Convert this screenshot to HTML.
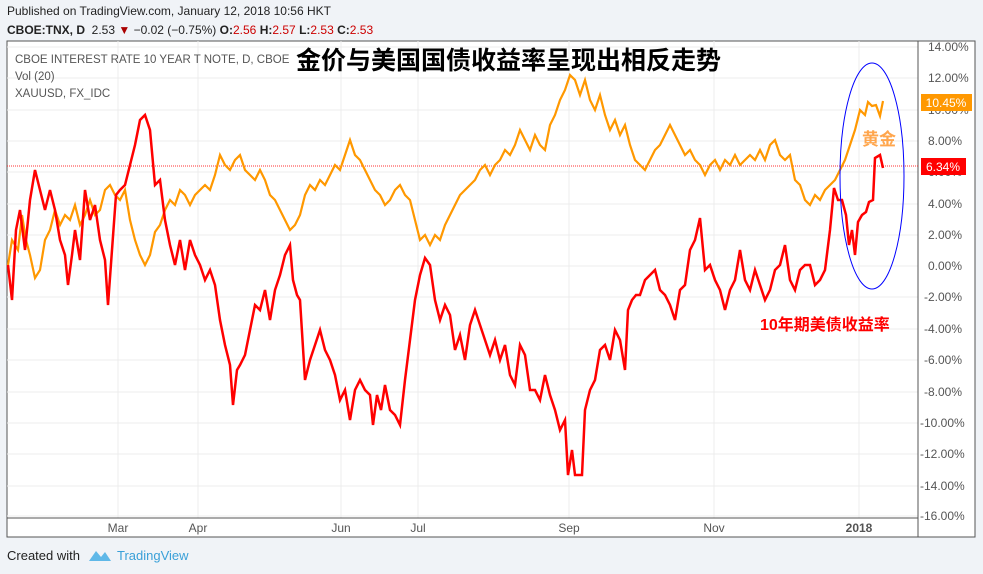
<!DOCTYPE html>
<html><head><meta charset="utf-8"><style>
body{margin:0;width:983px;height:574px;background:#f0f3f7;font-family:"Liberation Sans","Noto Sans CJK SC",sans-serif;overflow:hidden;position:relative}
.t{position:absolute;white-space:nowrap}
</style></head><body>
<div class="t" style="left:7px;top:4px;font-size:12px;color:#222">Published on TradingView.com, January 12, 2018 10:56 HKT</div>
<div class="t" style="left:7px;top:23px;font-size:12px;color:#222"><b>CBOE:TNX, D</b>&nbsp; 2.53 <span style="color:#a00">▼</span> −0.02 (−0.75%) <b>O:</b><span style="color:#c00">2.56</span> <b>H:</b><span style="color:#c00">2.57</span> <b>L:</b><span style="color:#c00">2.53</span> <b>C:</b><span style="color:#c00">2.53</span></div>
<svg width="983" height="574" style="position:absolute;left:0;top:0">
<rect x="7" y="41" width="968" height="496" fill="#fff" stroke="#555" stroke-width="1"/>
<g stroke="#ececec" stroke-width="1">
<line x1="118" y1="41" x2="118" y2="518"/><line x1="198" y1="41" x2="198" y2="518"/><line x1="341" y1="41" x2="341" y2="518"/><line x1="418" y1="41" x2="418" y2="518"/><line x1="569" y1="41" x2="569" y2="518"/><line x1="714" y1="41" x2="714" y2="518"/><line x1="859" y1="41" x2="859" y2="518"/>
<line x1="7" y1="47" x2="918" y2="47"/><line x1="7" y1="78" x2="918" y2="78"/><line x1="7" y1="110" x2="918" y2="110"/><line x1="7" y1="141" x2="918" y2="141"/><line x1="7" y1="172" x2="918" y2="172"/><line x1="7" y1="204" x2="918" y2="204"/><line x1="7" y1="235" x2="918" y2="235"/><line x1="7" y1="266" x2="918" y2="266"/><line x1="7" y1="297" x2="918" y2="297"/><line x1="7" y1="329" x2="918" y2="329"/><line x1="7" y1="360" x2="918" y2="360"/><line x1="7" y1="392" x2="918" y2="392"/><line x1="7" y1="423" x2="918" y2="423"/><line x1="7" y1="454" x2="918" y2="454"/><line x1="7" y1="486" x2="918" y2="486"/><line x1="7" y1="516" x2="918" y2="516"/>
</g>
<line x1="918" y1="41" x2="918" y2="537" stroke="#555"/>
<line x1="7" y1="518" x2="918" y2="518" stroke="#555"/>
<g font-size="12" fill="#555" font-family="Liberation Sans,sans-serif">
<text x="928" y="51">14.00%</text><text x="928" y="82">12.00%</text><text x="928" y="114">10.00%</text><text x="928" y="145">8.00%</text><text x="928" y="176">6.00%</text><text x="928" y="208">4.00%</text><text x="928" y="239">2.00%</text><text x="928" y="270">0.00%</text><text x="924" y="301">-2.00%</text><text x="924" y="333">-4.00%</text><text x="924" y="364">-6.00%</text><text x="924" y="396">-8.00%</text><text x="920" y="427">-10.00%</text><text x="920" y="458">-12.00%</text><text x="920" y="490">-14.00%</text><text x="920" y="520">-16.00%</text>
<text x="118" y="532" text-anchor="middle">Mar</text><text x="198" y="532" text-anchor="middle">Apr</text><text x="341" y="532" text-anchor="middle">Jun</text><text x="418" y="532" text-anchor="middle">Jul</text><text x="569" y="532" text-anchor="middle">Sep</text><text x="714" y="532" text-anchor="middle">Nov</text><text x="859" y="532" text-anchor="middle" font-weight="bold">2018</text>
</g>
<line x1="7" y1="166" x2="918" y2="166" stroke="#f33" stroke-width="1" stroke-dasharray="1,1"/>
<polyline fill="none" stroke="#ff9800" stroke-width="2.2" points="8,265 12,240 18,250 22,215 26,240 30,255 35,278 40,270 45,240 50,230 55,210 60,225 65,215 70,220 75,205 80,225 85,215 90,200 95,215 100,210 105,190 110,185 115,195 120,200 125,190 130,220 135,240 140,255 145,265 150,255 155,232 160,225 165,210 170,200 175,205 180,190 185,195 190,205 195,195 200,190 205,185 210,190 215,175 220,155 225,165 230,170 235,160 240,155 245,170 250,175 255,180 260,170 265,180 270,195 275,200 280,210 285,220 290,230 295,225 300,215 305,195 310,185 315,190 320,180 325,185 330,175 335,165 340,170 345,155 350,140 355,155 360,160 365,170 370,180 375,190 380,195 385,205 390,200 395,190 400,185 405,195 410,200 415,220 420,240 425,235 430,245 435,235 440,240 445,225 450,215 455,205 460,195 465,190 470,185 475,180 480,170 485,165 490,175 495,165 500,160 505,150 510,155 515,145 520,130 525,140 530,150 535,135 540,145 545,150 550,125 555,115 560,100 565,90 570,75 575,80 580,95 585,80 590,100 595,110 600,95 605,115 610,130 615,120 620,135 625,125 630,145 635,160 640,165 645,170 650,160 655,150 660,145 665,135 670,125 675,135 680,145 685,155 690,150 695,160 700,165 705,175 710,165 715,160 720,170 725,160 730,165 735,155 740,165 745,160 750,155 755,160 760,150 765,160 770,145 775,140 780,155 785,160 790,155 795,180 800,185 805,200 810,205 815,195 820,200 825,190 830,185 835,180 840,170 845,160 850,145 855,130 860,110 865,115 868,102 872,106 876,105 880,116 883,101"/>
<polyline fill="none" stroke="#ff0000" stroke-width="2.5" points="8,265 12,300 16,230 20,210 25,250 30,200 35,170 40,190 45,210 50,190 55,210 60,240 65,255 68,285 72,255 75,230 80,260 85,190 90,220 95,205 100,240 105,260 108,305 112,250 116,195 120,190 125,185 130,165 135,145 140,120 145,115 150,130 155,185 160,180 165,220 170,245 175,265 180,240 185,270 190,240 195,255 200,265 205,280 210,270 215,285 220,320 225,345 230,365 233,405 237,370 240,365 245,355 250,330 255,305 260,310 265,290 270,320 275,290 280,275 285,255 290,245 293,280 297,295 300,300 305,380 310,360 315,345 320,330 325,350 330,360 335,375 340,400 345,390 350,420 355,390 360,380 365,390 370,395 373,425 377,395 381,410 385,385 390,410 395,415 400,425 405,380 410,340 415,300 420,275 425,258 430,265 435,300 440,320 445,305 450,315 455,350 460,335 465,360 470,325 475,310 480,325 485,340 490,355 495,340 500,360 505,345 510,375 515,385 520,345 525,355 530,390 535,390 540,400 545,375 550,395 555,410 560,430 565,420 568,475 572,450 575,475 582,475 585,410 590,390 595,380 600,350 605,345 610,360 615,330 620,340 625,370 628,310 632,300 636,295 640,295 645,280 650,275 655,270 660,290 665,295 670,305 675,320 680,290 685,285 690,250 695,240 700,218 705,270 710,265 715,280 720,290 725,310 730,290 735,280 740,250 745,280 750,290 755,270 760,285 765,300 770,290 775,270 780,265 785,245 790,280 795,290 800,270 805,265 810,265 815,285 820,280 825,270 830,230 834,188 838,200 842,200 846,215 849,245 852,230 855,255 858,222 862,215 866,212 869,202 873,200 875,158 880,155 883,168"/>
<ellipse cx="872" cy="176" rx="32" ry="113" fill="none" stroke="#0000ff" stroke-width="1"/>
<rect x="921" y="94" width="51" height="17" fill="#ff9800"/>
<text x="946" y="107" fill="#fff" font-size="12" text-anchor="middle" font-family="Liberation Sans,sans-serif">10.45%</text>
<rect x="921" y="158" width="45" height="17" fill="#f00"/>
<text x="943" y="171" fill="#fff" font-size="12" text-anchor="middle" font-family="Liberation Sans,sans-serif">6.34%</text>
</svg>
<div class="t" style="left:15px;top:52px;font-size:11.5px;color:#555;line-height:17px">CBOE INTEREST RATE 10 YEAR T NOTE, D, CBOE<br>Vol (20)<br>XAUUSD, FX_IDC</div>
<div class="t" style="left:296px;top:46px;font-size:25px;line-height:30px;font-weight:bold;color:#000">金价与美国国债收益率呈现出相反走势</div>
<div class="t" style="left:862px;top:125px;font-size:17px;font-weight:bold;color:#ffa64d">黄金</div>
<div class="t" style="left:760px;top:311px;font-size:16px;font-weight:bold;color:#f00">10年期美债收益率</div>
<div class="t" style="left:7px;top:548px;font-size:13px;color:#222">Created with</div>
<svg style="position:absolute;left:88px;top:548px" width="24" height="14"><path d="M1,13 L8,3 L13,9 L17,4 L23,13 Z" fill="#5fb8e8"/></svg>
<div class="t" style="left:117px;top:548px;font-size:13px;color:#3aa0d8">TradingView</div>
</body></html>
